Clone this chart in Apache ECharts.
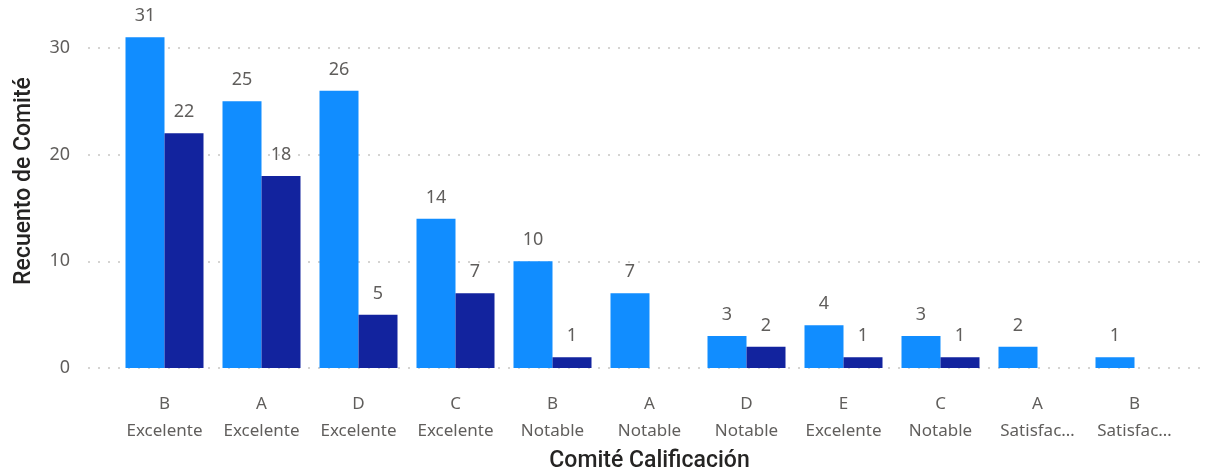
<!DOCTYPE html>
<html>
<head>
<meta charset="utf-8">
<script src="https://cdn.jsdelivr.net/npm/echarts@6/dist/echarts.min.js"></script>
<style>
  html, body { margin: 0; padding: 0; background: #fff; }
  #chart { width: 1211px; height: 470px; }
</style>
</head>
<body>
<div id="chart"></div>
<script>
var categories = [
  'B\nExcelente', 'A\nExcelente', 'D\nExcelente', 'C\nExcelente', 'B\nNotable',
  'A\nNotable', 'D\nNotable', 'E\nExcelente', 'C\nNotable', 'A\nSatisfactorio', 'B\nSatisfactorio'
]
var serieClara = [31, 25, 26, 14, 10, 7, 3, 4, 3, 2, 1]
var serieOscura = [22, 18, 5, 7, 1, null, 2, 1, 1, null, null]
var yTicks = [0, 10, 20, 30]

var font = "'Segoe UI', 'Noto Sans', sans-serif"
var titleFont = "'DIN', Roboto, sans-serif"
var myChart = echarts.init(document.getElementById('chart'))

var etiqueta = { show: true, position: 'top', distance: 12, color: '#605E5C', fontFamily: font, fontSize: 18 }

myChart.setOption({
  animation: false,
  color: ['#118DFF', '#12239E'],
  grid: [
    // fondo: etiquetas del eje y y lineas punteadas
    { left: 88, right: 6, top: 48, bottom: 102, outerBoundsMode: 'none', containLabel: false },
    // barras
    { left: 116, right: 28, top: 48, bottom: 102, outerBoundsMode: 'none', containLabel: false }
  ],
  xAxis: [
    { gridIndex: 0, type: 'value', show: false, min: 0, max: 1 },
    {
      gridIndex: 1,
      type: 'category',
      data: categories,
      axisLine: { show: false },
      axisTick: { show: false },
      axisLabel: {
        color: '#605E5C',
        fontFamily: font,
        fontSize: 17,
        lineHeight: 27,
        margin: 23,
        interval: 0,
        formatter: function (v) {
          return v.split('\n').map(function (s) {
            return s.length > 10 ? s.slice(0, 8) + '…' : s
          }).join('\n')
        }
      },
      name: 'Comité Calificación',
      nameLocation: 'middle',
      nameGap: 67,
      nameTextStyle: { color: '#252423', fontFamily: titleFont, fontWeight: 500, fontSize: 23 }
    }
  ],
  yAxis: [
    {
      gridIndex: 0,
      type: 'value',
      min: yTicks[0],
      max: yTicks[yTicks.length - 1],
      interval: 10,
      axisLine: { show: false },
      axisTick: { show: false },
      axisLabel: { color: '#605E5C', fontFamily: font, fontSize: 18, margin: 18 },
      splitLine: { lineStyle: { color: '#C8C6C4', type: [2, 8], width: 1.5 } },
      name: 'Recuento de Comité',
      nameLocation: 'middle',
      nameGap: 52,
      nameTextStyle: { color: '#252423', fontFamily: titleFont, fontWeight: 500, fontSize: 23, padding: [0, 0, 0, 54] }
    },
    {
      gridIndex: 1,
      type: 'value',
      min: yTicks[0],
      max: yTicks[yTicks.length - 1],
      show: false,
      splitLine: { show: false }
    }
  ],
  series: [
    {
      type: 'bar',
      xAxisIndex: 1,
      yAxisIndex: 1,
      data: serieClara,
      barWidth: 39,
      barGap: '0%',
      clip: false,
      label: etiqueta
    },
    {
      type: 'bar',
      xAxisIndex: 1,
      yAxisIndex: 1,
      data: serieOscura,
      barWidth: 39,
      barGap: '0%',
      clip: false,
      label: etiqueta
    }
  ]
})
</script>
</body>
</html>
